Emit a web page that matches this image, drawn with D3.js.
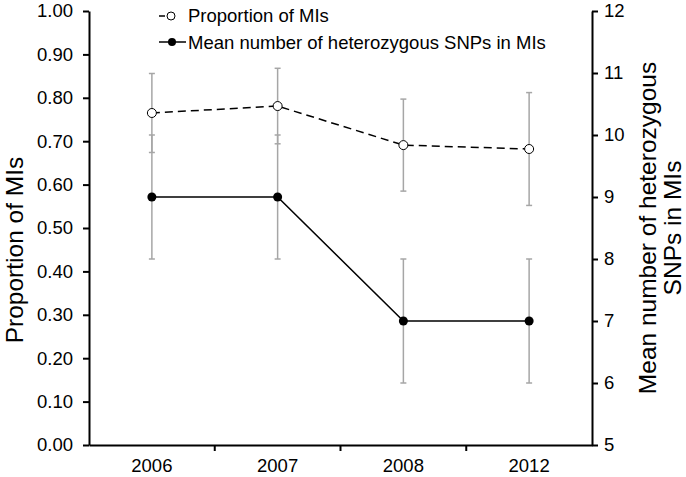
<!DOCTYPE html>
<html>
<head>
<meta charset="utf-8">
<script src="https://cdn.jsdelivr.net/npm/d3@7"></script>
<style>
  body { margin: 0; background: #fff; }
  svg text { font-family: "Liberation Sans", Arial, sans-serif; fill: #000; }
</style>
</head>
<body>
<div id="chart"></div>
<script>
// values
const years = ["2006", "2007", "2008", "2012"];
const propMean = [0.765, 0.781, 0.691, 0.682];
const propErr = [0.091, 0.087, 0.106, 0.13];
const snpMean = [9, 9, 7, 7];
const snpErr = [1, 1, 1, 1];
const leftTicks = [0, 0.1, 0.2, 0.3, 0.4, 0.5, 0.6, 0.7, 0.8, 0.9, 1.0];
const rightTicks = [5, 6, 7, 8, 9, 10, 11, 12];

function init() {
    const w = 686;
    const h = 477;
    const left = 89, right = 592, top = 11, bottom = 445;

    const svg = d3.select("#chart")
        .append("svg")
        .attr("width", w)
        .attr("height", h);

    const x = d3.scaleBand()
        .domain(years)
        .range([left, right])
        .padding(0);

    const yL = d3.scaleLinear().domain([0, 1]).range([bottom, top]);
    const yR = d3.scaleLinear().domain([5, 12]).range([bottom, top]);

    const cx = d => x(d) + x.bandwidth() / 2;

    // axes
    const axL = svg.append("g")
        .attr("transform", "translate(" + left + ",0)")
        .call(d3.axisLeft(yL).tickValues(leftTicks).tickFormat(d3.format(".2f")).tickSize(6).tickSizeOuter(0));
    const axR = svg.append("g")
        .attr("transform", "translate(" + right + ",0)")
        .call(d3.axisRight(yR).tickValues(rightTicks).tickFormat(d3.format("d")).tickSize(6).tickSizeOuter(0));
    const axX = svg.append("g")
        .attr("transform", "translate(0," + bottom + ")")
        .call(d3.axisBottom(x).tickSize(0).tickSizeOuter(0));

    [axL, axR, axX].forEach(function (g) {
        g.select(".domain").attr("stroke", "#000").attr("stroke-width", 2);
        g.selectAll(".tick line").attr("stroke", "#000").attr("stroke-width", 2);
        g.selectAll("text").style("font-size", "18.5px").attr("fill", "#000");
    });
    axL.selectAll("text").attr("x", -16);
    axR.selectAll("text").attr("x", 12);
    axX.selectAll("text").attr("y", 14);

    // category boundary ticks on the x axis
    svg.append("g").selectAll("line")
        .data(years.slice(1))
        .enter()
        .append("line")
        .attr("x1", d => x(d))
        .attr("x2", d => x(d))
        .attr("y1", bottom)
        .attr("y2", bottom + 6)
        .attr("stroke", "#000")
        .attr("stroke-width", 2);

    // axis titles
    svg.append("text")
        .attr("transform", "translate(23,250) rotate(-90)")
        .attr("text-anchor", "middle")
        .style("font-size", "24.5px")
        .text("Proportion of MIs");

    const rt = svg.append("text")
        .attr("transform", "translate(656," + (top + bottom) / 2 + ") rotate(-90)")
        .attr("text-anchor", "middle")
        .style("font-size", "24.5px");
    rt.append("tspan").attr("x", 0).attr("dy", 0).text("Mean number of heterozygous");
    rt.append("tspan").attr("x", 0).attr("dy", 25).text("SNPs in MIs");

    // error bars
    function errorBars(mean, err, y) {
        const g = svg.append("g").attr("stroke", "#a6a6a6").attr("stroke-width", 1.5);
        years.forEach(function (d, i) {
            const xc = cx(d);
            const y1 = y(mean[i] + err[i]);
            const y2 = y(mean[i] - err[i]);
            g.append("line").attr("x1", xc).attr("x2", xc).attr("y1", y1).attr("y2", y2);
            g.append("line").attr("x1", xc - 3).attr("x2", xc + 3).attr("y1", y1).attr("y2", y1);
            g.append("line").attr("x1", xc - 3).attr("x2", xc + 3).attr("y1", y2).attr("y2", y2);
        });
    }
    errorBars(propMean, propErr, yL);
    errorBars(snpMean, snpErr, yR);

    // lines
    const propLine = d3.line().x((d, i) => cx(years[i])).y(d => yL(d));
    const snpLine = d3.line().x((d, i) => cx(years[i])).y(d => yR(d));

    svg.append("path")
        .attr("d", snpLine(snpMean))
        .attr("fill", "none")
        .attr("stroke", "#000")
        .attr("stroke-width", 1.5);

    svg.append("path")
        .attr("d", propLine(propMean))
        .attr("fill", "none")
        .attr("stroke", "#000")
        .attr("stroke-width", 1.5)
        .attr("stroke-dasharray", "8,5");

    svg.selectAll(".snpDot")
        .data(snpMean)
        .enter()
        .append("circle")
        .attr("cx", (d, i) => cx(years[i]))
        .attr("cy", d => yR(d))
        .attr("r", 4.5)
        .attr("fill", "#000");

    svg.selectAll(".propDot")
        .data(propMean)
        .enter()
        .append("circle")
        .attr("cx", (d, i) => cx(years[i]))
        .attr("cy", d => yL(d))
        .attr("r", 4.5)
        .attr("fill", "#fff")
        .attr("stroke", "#000")
        .attr("stroke-width", 1);

    // legend
    const leg = svg.append("g");
    leg.append("line").attr("x1", 159).attr("x2", 184).attr("y1", 16).attr("y2", 16)
        .attr("stroke", "#000").attr("stroke-width", 1.5).attr("stroke-dasharray", "6,20");
    leg.append("circle").attr("cx", 171).attr("cy", 16).attr("r", 4)
        .attr("fill", "#fff").attr("stroke", "#000");
    leg.append("text").attr("x", 188).attr("y", 22).style("font-size", "18.5px").text("Proportion of MIs");

    leg.append("line").attr("x1", 159).attr("x2", 186).attr("y1", 42).attr("y2", 42)
        .attr("stroke", "#000").attr("stroke-width", 1.5);
    leg.append("circle").attr("cx", 172).attr("cy", 42).attr("r", 4).attr("fill", "#000");
    leg.append("text").attr("x", 188).attr("y", 49).style("font-size", "18.5px").text("Mean number of heterozygous SNPs in MIs");
}

window.onload = init;
</script>
</body>
</html>
